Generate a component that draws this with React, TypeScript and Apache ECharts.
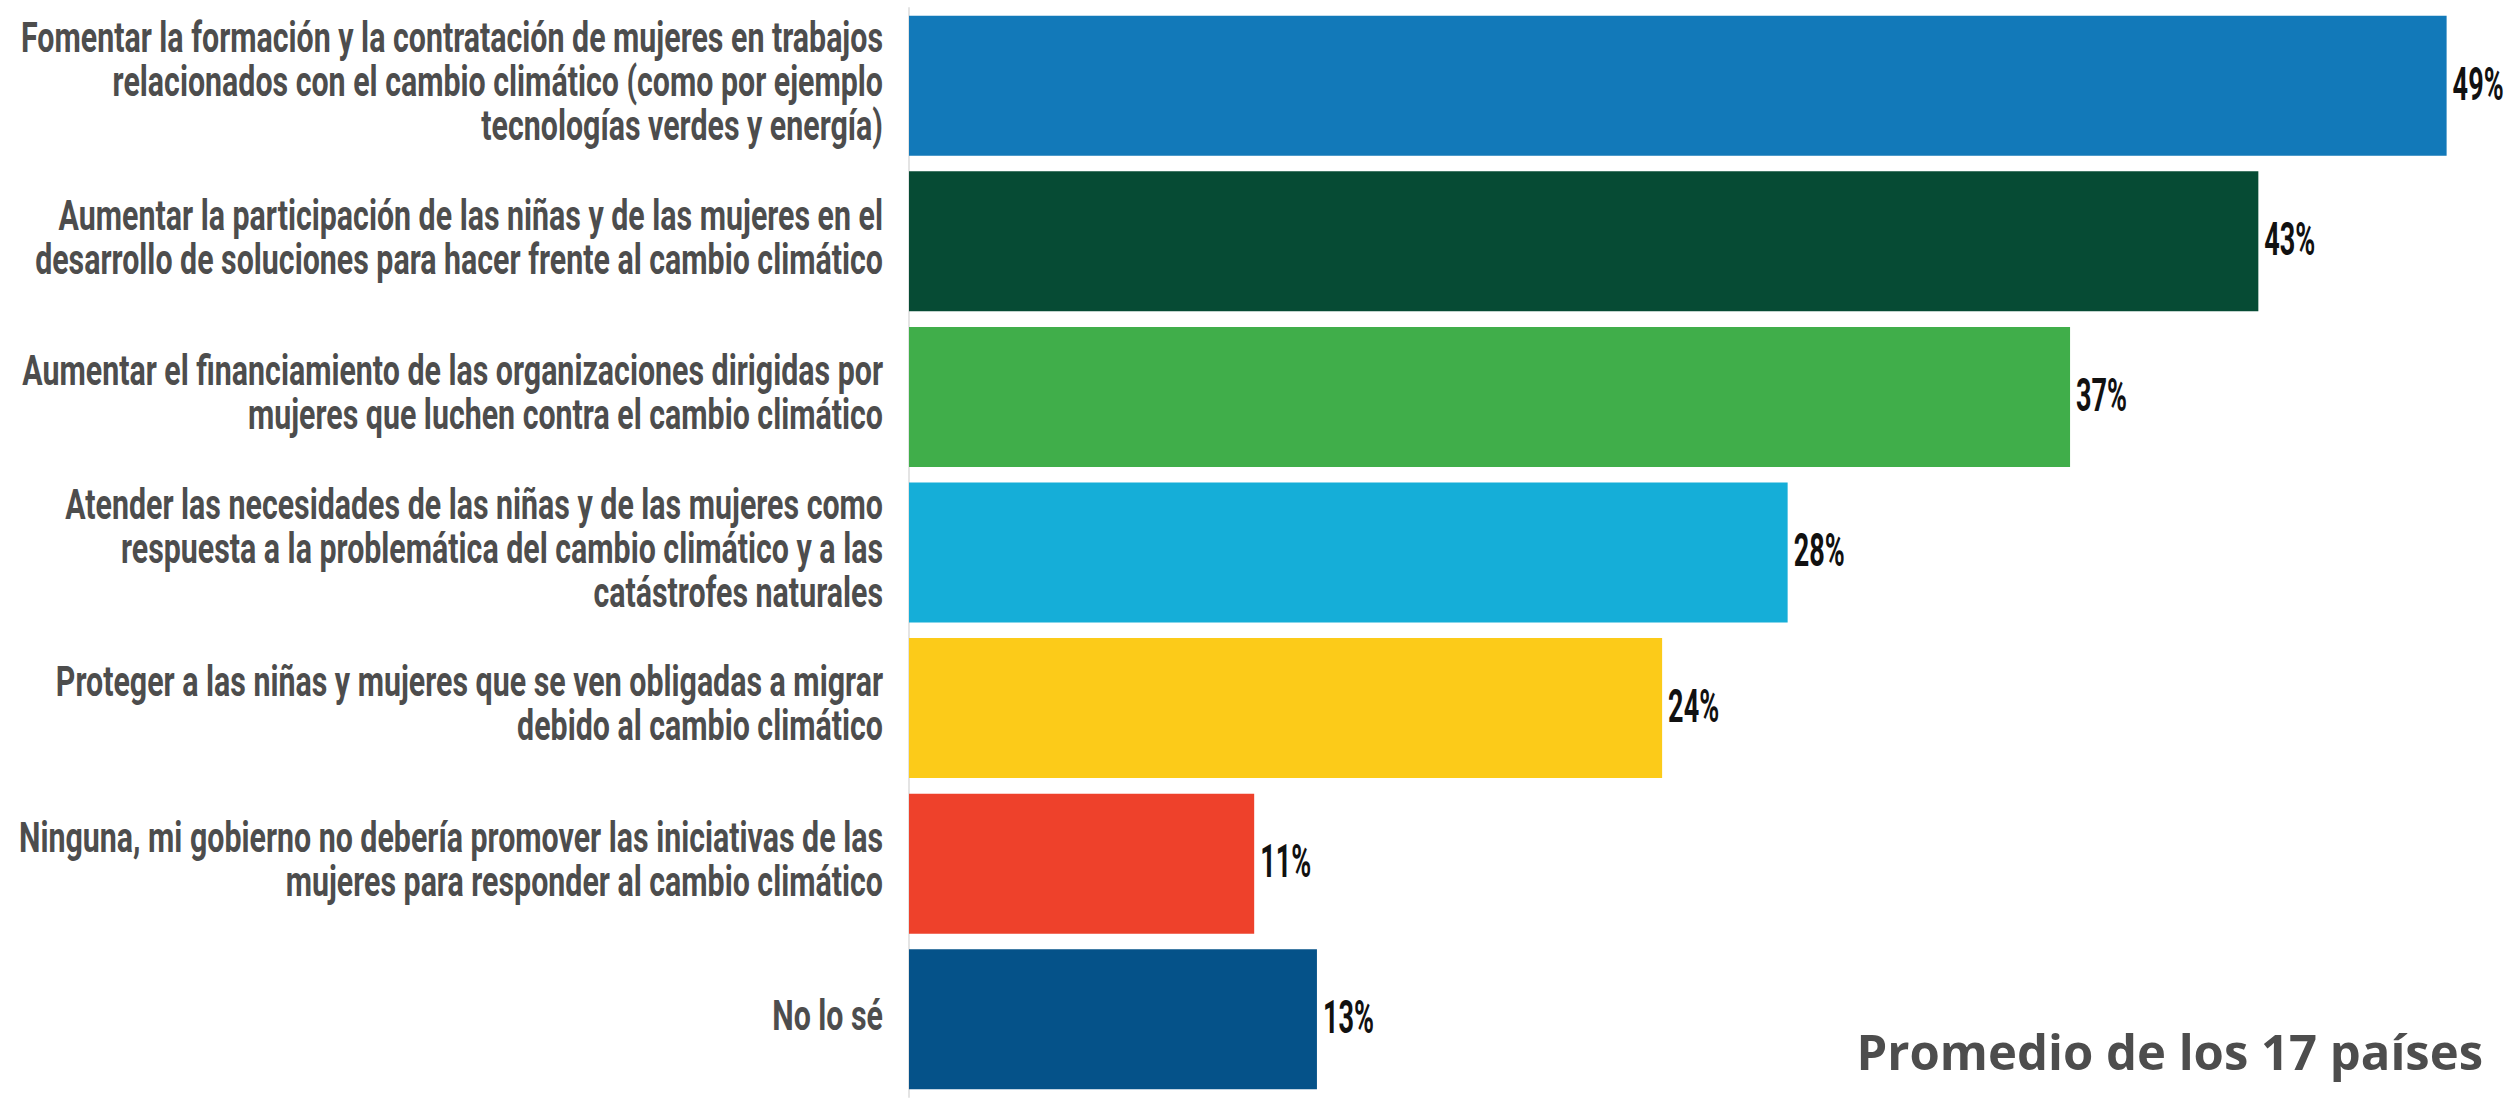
import React, { useEffect, useRef } from "react";
import * as echarts from "echarts";

const categories: string[] = [
  "Fomentar la formación y la contratación de mujeres en trabajos\nrelacionados con el cambio climático (como por ejemplo\ntecnologías verdes y energía)",
  "Aumentar la participación de las niñas y de las mujeres en el\ndesarrollo de soluciones para hacer frente al cambio climático",
  "Aumentar el financiamiento de las organizaciones dirigidas por\nmujeres que luchen contra el cambio climático",
  "Atender las necesidades de las niñas y de las mujeres como\nrespuesta a la problemática del cambio climático y a las\ncatástrofes naturales",
  "Proteger a las niñas y mujeres que se ven obligadas a migrar\ndebido al cambio climático",
  "Ninguna, mi gobierno no debería promover las iniciativas de las\nmujeres para responder al cambio climático",
  "No lo sé",
];

const values: number[] = [49, 43, 37, 28, 24, 11, 13];

const barColors: string[] = [
  "#1279b9",
  "#064b34",
  "#40ae4a",
  "#15aed8",
  "#fccb19",
  "#ee412b",
  "#055289",
];

const footnote = "Promedio de los 17 países";

const LABEL_FONT = "bold 42px Roboto";
const VALUE_FONT = "bold 46px Roboto";

function measure(text: string, font: string): number {
  const ctx = document.createElement("canvas").getContext("2d");
  if (!ctx) return 1;
  ctx.font = font;
  return ctx.measureText(text).width || 1;
}

export default function App() {
  const ref = useRef<HTMLDivElement>(null);

  useEffect(() => {
    if (!ref.current) return;
    const chart = echarts.init(ref.current, undefined, { renderer: "svg" });

    const labelScale = 862 / measure(categories[0].split("\n")[0], LABEL_FONT);
    const valueScale = 51 / measure("49%", VALUE_FONT);

    chart.setOption({
      animation: false,
      backgroundColor: "#ffffff",
      grid: { left: 909, right: 31, top: 8, bottom: 8, containLabel: false },
      xAxis: {
        type: "value",
        min: 0,
        max: 50,
        show: false,
      },
      yAxis: {
        type: "category",
        data: categories,
        inverse: true,
        offset: 2,
        axisLine: { show: true, lineStyle: { color: "#e4e4e4", width: 2 } },
        axisTick: { show: false },
        axisLabel: { show: false },
        splitLine: { show: false },
      },
      series: [
        {
          type: "bar",
          barWidth: 140,
          data: values.map((v, i) => ({ value: v, itemStyle: { color: barColors[i] } })),
          z: 2,
        },
        {
          type: "custom",
          z: 3,
          silent: true,
          encode: { x: 0, y: 1 },
          data: categories.map((_, i) => [0, i]),
          renderItem: (_params: any, api: any) => {
            const idx = api.value(1);
            const pt = api.coord([0, idx]);
            return {
              type: "text",
              x: pt[0] - 26,
              y: pt[1] - 4,
              scaleX: labelScale,
              style: {
                text: categories[idx],
                x: 0,
                y: 0,
                align: "right",
                verticalAlign: "middle",
                fontFamily: "Roboto",
                fontWeight: "bold",
                fontSize: 42,
                lineHeight: 44,
                fill: "#4d4d4d",
              },
            };
          },
        },
        {
          type: "custom",
          z: 3,
          silent: true,
          encode: { x: 0, y: 1 },
          data: values.map((v, i) => [v, i]),
          renderItem: (_params: any, api: any) => {
            const v = api.value(0);
            const idx = api.value(1);
            const pt = api.coord([v, idx]);
            return {
              type: "text",
              x: pt[0] + 6,
              y: pt[1] - 2,
              scaleX: valueScale,
              style: {
                text: v + "%",
                x: 0,
                y: 0,
                align: "left",
                verticalAlign: "middle",
                fontFamily: "Roboto",
                fontWeight: "bold",
                fontSize: 46,
                fill: "#111111",
              },
            };
          },
        },
      ],
      graphic: [
        {
          type: "text",
          right: 26,
          bottom: 30,
          style: {
            text: footnote,
            fontFamily: "'Open Sans'",
            fontWeight: "bold",
            fontSize: 49,
            fill: "#4d4d4d",
          },
        },
      ],
    });

    return () => chart.dispose();
  }, []);

  return (
    <div
      ref={ref}
      style={{ position: "absolute", left: 0, top: 0, width: 2509, height: 1105 }}
    />
  );
}
